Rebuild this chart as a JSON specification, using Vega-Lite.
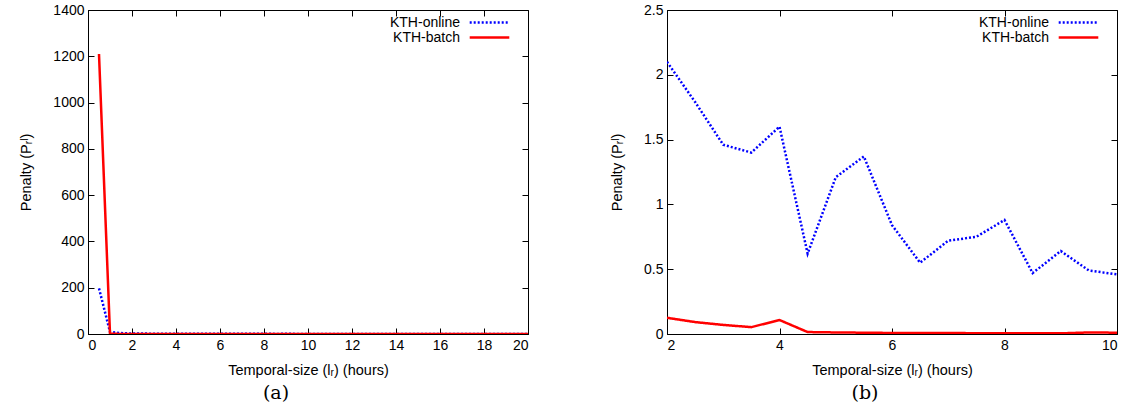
{
  "$schema": "https://vega.github.io/schema/vega-lite/v6.json",
  "padding": {"left": 18, "top": 2, "right": 2, "bottom": 0},
  "background": "white",
  "datasets": {
    "kth": [
      {"x": 0.5, "series": "KTH-online", "value": 197},
      {"x": 1, "series": "KTH-online", "value": 9},
      {"x": 1.5, "series": "KTH-online", "value": 4},
      {"x": 2, "series": "KTH-online", "value": 2.1},
      {"x": 2.5, "series": "KTH-online", "value": 1.79},
      {"x": 3, "series": "KTH-online", "value": 1.46},
      {"x": 3.5, "series": "KTH-online", "value": 1.40},
      {"x": 4, "series": "KTH-online", "value": 1.60},
      {"x": 4.5, "series": "KTH-online", "value": 0.62},
      {"x": 5, "series": "KTH-online", "value": 1.21},
      {"x": 5.5, "series": "KTH-online", "value": 1.37},
      {"x": 6, "series": "KTH-online", "value": 0.84},
      {"x": 6.5, "series": "KTH-online", "value": 0.55},
      {"x": 7, "series": "KTH-online", "value": 0.72},
      {"x": 7.5, "series": "KTH-online", "value": 0.75},
      {"x": 8, "series": "KTH-online", "value": 0.88},
      {"x": 8.5, "series": "KTH-online", "value": 0.47},
      {"x": 9, "series": "KTH-online", "value": 0.64},
      {"x": 9.5, "series": "KTH-online", "value": 0.49},
      {"x": 10, "series": "KTH-online", "value": 0.46},
      {"x": 10.5, "series": "KTH-online", "value": 0.44},
      {"x": 11, "series": "KTH-online", "value": 0.42},
      {"x": 11.5, "series": "KTH-online", "value": 0.43},
      {"x": 12, "series": "KTH-online", "value": 0.40},
      {"x": 12.5, "series": "KTH-online", "value": 0.38},
      {"x": 13, "series": "KTH-online", "value": 0.39},
      {"x": 13.5, "series": "KTH-online", "value": 0.36},
      {"x": 14, "series": "KTH-online", "value": 0.35},
      {"x": 14.5, "series": "KTH-online", "value": 0.34},
      {"x": 15, "series": "KTH-online", "value": 0.33},
      {"x": 15.5, "series": "KTH-online", "value": 0.32},
      {"x": 16, "series": "KTH-online", "value": 0.31},
      {"x": 16.5, "series": "KTH-online", "value": 0.30},
      {"x": 17, "series": "KTH-online", "value": 0.30},
      {"x": 17.5, "series": "KTH-online", "value": 0.29},
      {"x": 18, "series": "KTH-online", "value": 0.28},
      {"x": 18.5, "series": "KTH-online", "value": 0.28},
      {"x": 19, "series": "KTH-online", "value": 0.27},
      {"x": 19.5, "series": "KTH-online", "value": 0.26},
      {"x": 20, "series": "KTH-online", "value": 0.25},
      {"x": 0.5, "series": "KTH-batch", "value": 1210},
      {"x": 1, "series": "KTH-batch", "value": 1},
      {"x": 1.5, "series": "KTH-batch", "value": 0.3},
      {"x": 2, "series": "KTH-batch", "value": 0.125},
      {"x": 2.5, "series": "KTH-batch", "value": 0.092},
      {"x": 3, "series": "KTH-batch", "value": 0.07},
      {"x": 3.5, "series": "KTH-batch", "value": 0.053},
      {"x": 4, "series": "KTH-batch", "value": 0.108},
      {"x": 4.5, "series": "KTH-batch", "value": 0.015},
      {"x": 5, "series": "KTH-batch", "value": 0.012},
      {"x": 5.5, "series": "KTH-batch", "value": 0.01},
      {"x": 6, "series": "KTH-batch", "value": 0.008},
      {"x": 6.5, "series": "KTH-batch", "value": 0.007},
      {"x": 7, "series": "KTH-batch", "value": 0.008},
      {"x": 7.5, "series": "KTH-batch", "value": 0.006},
      {"x": 8, "series": "KTH-batch", "value": 0.006},
      {"x": 8.5, "series": "KTH-batch", "value": 0.005},
      {"x": 9, "series": "KTH-batch", "value": 0.005},
      {"x": 9.5, "series": "KTH-batch", "value": 0.012},
      {"x": 10, "series": "KTH-batch", "value": 0.01},
      {"x": 10.5, "series": "KTH-batch", "value": 0.01},
      {"x": 11, "series": "KTH-batch", "value": 0.009},
      {"x": 11.5, "series": "KTH-batch", "value": 0.009},
      {"x": 12, "series": "KTH-batch", "value": 0.008},
      {"x": 12.5, "series": "KTH-batch", "value": 0.008},
      {"x": 13, "series": "KTH-batch", "value": 0.008},
      {"x": 13.5, "series": "KTH-batch", "value": 0.007},
      {"x": 14, "series": "KTH-batch", "value": 0.007},
      {"x": 14.5, "series": "KTH-batch", "value": 0.007},
      {"x": 15, "series": "KTH-batch", "value": 0.006},
      {"x": 15.5, "series": "KTH-batch", "value": 0.006},
      {"x": 16, "series": "KTH-batch", "value": 0.006},
      {"x": 16.5, "series": "KTH-batch", "value": 0.006},
      {"x": 17, "series": "KTH-batch", "value": 0.005},
      {"x": 17.5, "series": "KTH-batch", "value": 0.005},
      {"x": 18, "series": "KTH-batch", "value": 0.005},
      {"x": 18.5, "series": "KTH-batch", "value": 0.005},
      {"x": 19, "series": "KTH-batch", "value": 0.005},
      {"x": 19.5, "series": "KTH-batch", "value": 0.004},
      {"x": 20, "series": "KTH-batch", "value": 0.004}
    ]
  },
  "config": {
    "font": "Liberation Sans",
    "view": {"stroke": "black", "strokeWidth": 1},
    "axis": {
      "grid": false,
      "domainColor": "black",
      "tickColor": "black",
      "tickSize": -6,
      "labelFontSize": 14,
      "labelColor": "black",
      "labelPadding": 10,
      "titleFontSize": 14.5,
      "titleFontWeight": "normal",
      "titleColor": "black"
    },
    "axisX": {"titlePadding": 11},
    "axisY": {"titlePadding": 19},
    "legend": {
      "orient": "none",
      "padding": 0,
      "labelFontSize": 14,
      "labelColor": "black",
      "labelAlign": "right",
      "labelOffset": -37,
      "symbolType": "M-3.3,0H3.3",
      "symbolSize": 144,
      "symbolStrokeWidth": 2.5,
      "rowPadding": 0
    },
    "title": {
      "orient": "bottom",
      "font": "DejaVu Serif",
      "fontSize": 19,
      "fontWeight": "normal",
      "color": "black",
      "offset": 7
    },
    "concat": {"spacing": 80}
  },
  "resolve": {
    "scale": {"color": "independent", "strokeDash": "independent"},
    "legend": {"color": "independent", "strokeDash": "independent"}
  },
  "hconcat": [
    {
      "width": 440,
      "height": 324,
      "title": {"text": "(a)", "dx": -32},
      "data": {"name": "kth"},
      "layer": [
        {
          "mark": {"type": "line", "strokeWidth": 2.5, "clip": true},
          "encoding": {
            "x": {"field": "x", "type": "quantitative", "scale": {"domain": [0, 20], "nice": false},
              "axis": {"values": [0, 2, 4, 6, 8, 10, 12, 14, 16, 18, 20], "title": "Temporal-size (lᵣ) (hours)"}},
            "y": {"field": "value", "type": "quantitative", "scale": {"domain": [0, 1400], "nice": false},
              "axis": {"values": [0, 200, 400, 600, 800, 1000, 1200, 1400], "format": "d", "title": "Penalty (Pᵣˡ)"}},
            "color": {"field": "series", "type": "nominal", "scale": {"domain": ["KTH-online", "KTH-batch"], "range": ["#0000ff", "#ff0000"]}, "legend": {"title": null, "legendX": 394, "legendY": 5}},
            "strokeDash": {"field": "series", "type": "nominal", "scale": {"domain": ["KTH-online", "KTH-batch"], "range": [[2, 2], [1, 0]]}, "legend": {"title": null, "legendX": 394, "legendY": 5}}
          }
        },
        {
          "mark": {"type": "line", "opacity": 0},
          "encoding": {
            "x": {"field": "x", "type": "quantitative", "axis": {"orient": "top", "values": [0, 2, 4, 6, 8, 10, 12, 14, 16, 18, 20], "labels": false, "title": null, "domain": false}},
            "y": {"field": "value", "type": "quantitative", "axis": {"orient": "right", "values": [0, 200, 400, 600, 800, 1000, 1200, 1400], "labels": false, "title": null, "domain": false}}
          }
        }
      ],
      "resolve": {"axis": {"x": "independent", "y": "independent"}}
    },
    {
      "width": 450,
      "height": 324,
      "title": {"text": "(b)", "dx": -27},
      "data": {"name": "kth"},
      "transform": [{"filter": "datum.x >= 2 && datum.x <= 10"}],
      "layer": [
        {
          "mark": {"type": "line", "strokeWidth": 2.5, "clip": true},
          "encoding": {
            "x": {"field": "x", "type": "quantitative", "scale": {"domain": [2, 10], "nice": false, "zero": false},
              "axis": {"values": [2, 4, 6, 8, 10], "title": "Temporal-size (lᵣ) (hours)"}},
            "y": {"field": "value", "type": "quantitative", "scale": {"domain": [0, 2.5], "nice": false},
              "axis": {"values": [0, 0.5, 1, 1.5, 2, 2.5], "format": "~g", "title": "Penalty (Pᵣˡ)"}},
            "color": {"field": "series", "type": "nominal", "scale": {"domain": ["KTH-online", "KTH-batch"], "range": ["#0000ff", "#ff0000"]}, "legend": {"title": null, "legendX": 404, "legendY": 5}},
            "strokeDash": {"field": "series", "type": "nominal", "scale": {"domain": ["KTH-online", "KTH-batch"], "range": [[2, 2], [1, 0]]}, "legend": {"title": null, "legendX": 404, "legendY": 5}}
          }
        },
        {
          "mark": {"type": "line", "opacity": 0},
          "encoding": {
            "x": {"field": "x", "type": "quantitative", "axis": {"orient": "top", "values": [2, 4, 6, 8, 10], "labels": false, "title": null, "domain": false}},
            "y": {"field": "value", "type": "quantitative", "axis": {"orient": "right", "values": [0, 0.5, 1, 1.5, 2, 2.5], "labels": false, "title": null, "domain": false}}
          }
        }
      ],
      "resolve": {"axis": {"x": "independent", "y": "independent"}}
    }
  ]
}
